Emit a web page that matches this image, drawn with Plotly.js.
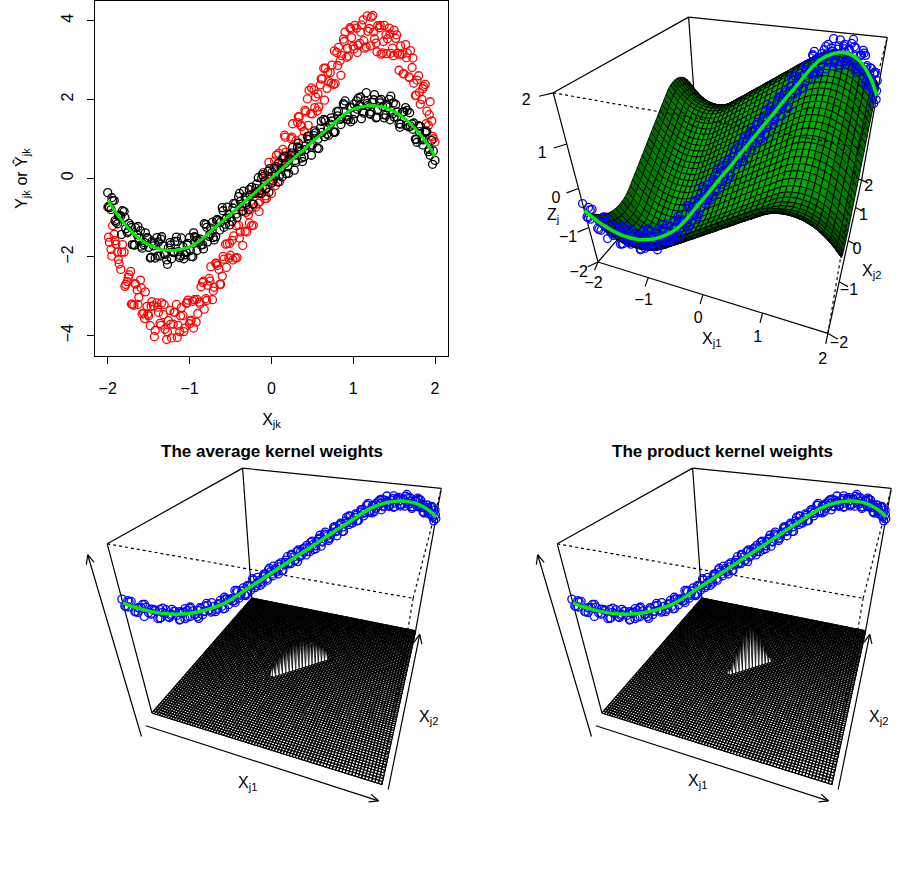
<!DOCTYPE html>
<html><head><meta charset="utf-8">
<script src="https://cdn.plot.ly/plotly-3.0.1.min.js"></script>
<style>html,body{margin:0;padding:0;background:#fff}#chart{width:900px;height:873px}</style>
</head><body><div id="chart"></div>
<script>
const xA = [-2,-1.96,-1.92,-1.88,-1.84,-1.8,-1.76,-1.72,-1.68,-1.64,
-1.6,-1.56,-1.52,-1.48,-1.44,-1.4,-1.36,-1.32,-1.28,-1.24,
-1.2,-1.16,-1.12,-1.08,-1.04,-1,-0.96,-0.92,-0.88,-0.84,
-0.8,-0.76,-0.72,-0.68,-0.64,-0.6,-0.56,-0.52,-0.48,-0.44,
-0.4,-0.36,-0.32,-0.28,-0.24,-0.2,-0.16,-0.12,-0.08,-0.04,
0,0.04,0.08,0.12,0.16,0.2,0.24,0.28,0.32,0.36,
0.4,0.44,0.48,0.52,0.56,0.6,0.64,0.68,0.72,0.76,
0.8,0.84,0.88,0.92,0.96,1,1.04,1.08,1.12,1.16,
1.2,1.24,1.28,1.32,1.36,1.4,1.44,1.48,1.52,1.56,
1.6,1.64,1.68,1.72,1.76,1.8,1.84,1.88,1.92,1.96,2];
const xB = [-1.98,-1.94,-1.9,-1.86,-1.82,-1.78,-1.74,-1.7,-1.66,-1.62,
-1.58,-1.54,-1.5,-1.46,-1.42,-1.38,-1.34,-1.3,-1.26,-1.22,
-1.18,-1.14,-1.1,-1.06,-1.02,-0.98,-0.94,-0.9,-0.86,-0.82,
-0.78,-0.74,-0.7,-0.66,-0.62,-0.58,-0.54,-0.5,-0.46,-0.42,
-0.38,-0.34,-0.3,-0.26,-0.22,-0.18,-0.14,-0.1,-0.06,-0.02,
0.02,0.06,0.1,0.14,0.18,0.22,0.26,0.3,0.34,0.38,
0.42,0.46,0.5,0.54,0.58,0.62,0.66,0.7,0.74,0.78,
0.82,0.86,0.9,0.94,0.98,1.02,1.06,1.1,1.14,1.18,
1.22,1.26,1.3,1.34,1.38,1.42,1.46,1.5,1.54,1.58,
1.62,1.66,1.7,1.74,1.78,1.82,1.86,1.9,1.94,1.98];
const xC = [-1.99,-1.95,-1.91,-1.87,-1.83,-1.79,-1.75,-1.71,-1.67,-1.63,
-1.59,-1.55,-1.51,-1.47,-1.43,-1.39,-1.35,-1.31,-1.27,-1.23,
-1.19,-1.15,-1.11,-1.07,-1.03,-0.99,-0.95,-0.91,-0.87,-0.83,
-0.79,-0.75,-0.71,-0.67,-0.63,-0.59,-0.55,-0.51,-0.47,-0.43,
-0.39,-0.35,-0.31,-0.27,-0.23,-0.19,-0.15,-0.11,-0.07,-0.03,
0.01,0.05,0.09,0.13,0.17,0.21,0.25,0.29,0.33,0.37,
0.41,0.45,0.49,0.53,0.57,0.61,0.65,0.69,0.73,0.77,
0.81,0.85,0.89,0.93,0.97,1.01,1.05,1.09,1.13,1.17,
1.21,1.25,1.29,1.33,1.37,1.41,1.45,1.49,1.53,1.57,
1.61,1.65,1.69,1.73,1.77,1.81,1.85,1.89,1.93,1.97];
const blackYA = [-0.37,-0.80,-0.57,-1.16,-0.96,-0.85,-1.39,-1.21,-1.70,-1.44,
-1.34,-1.69,-1.51,-2.03,-1.72,-1.51,-1.98,-1.72,-2.08,-1.64,
-1.89,-1.50,-2.02,-1.74,-1.89,-1.51,-2.00,-1.51,-1.60,-1.69,
-1.18,-1.48,-1.12,-1.49,-1.08,-0.75,-1.17,-0.92,-1.10,-0.65,
-0.47,-0.72,-0.48,-0.80,-0.23,-0.39,0.01,-0.39,-0.07,0.17,
-0.13,0.25,-0.10,0.25,0.56,0.28,0.58,0.20,0.79,0.67,
0.54,1.06,0.81,1.08,0.76,1.27,1.49,1.12,1.37,1.17,
1.69,1.49,1.89,1.49,1.80,1.49,1.96,1.85,1.69,2.17,
1.64,1.92,1.53,1.97,1.82,1.60,2.00,1.63,1.87,1.38,
1.67,1.79,1.30,1.37,0.99,1.33,0.99,1.16,0.67,0.96,0.45];
const blackYB = [-0.75,-0.57,-1.12,-0.96,-0.83,-1.29,-1.15,-1.69,-1.26,-1.52,
-1.78,-1.39,-1.76,-1.61,-2.03,-1.62,-1.49,-1.94,-1.78,-2.05,
-1.61,-1.87,-1.52,-1.95,-1.66,-1.99,-1.49,-1.58,-1.70,-1.16,
-1.62,-1.27,-1.57,-1.05,-1.12,-1.25,-0.74,-1.00,-0.64,-1.00,
-0.59,-0.33,-0.67,-0.44,-0.66,-0.15,-0.31,0.04,-0.26,0.24,
-0.06,0.29,0.06,0.51,0.11,0.49,0.78,0.40,0.75,0.42,
0.82,1.07,0.84,1.15,0.75,1.16,1.47,1.09,1.45,1.17,
1.70,1.52,1.96,1.48,1.79,1.64,2.03,1.51,1.97,1.84,
1.68,2.12,1.73,2.00,1.53,1.85,2.08,1.55,1.68,1.37,
1.69,1.72,1.32,1.40,0.91,1.31,0.97,1.18,0.58,0.69];
const blackYC = [-0.72,-0.50,-1.08,-0.94,-1.43,-1.00,-1.35,-1.26,-1.70,-1.23,
-1.73,-1.64,-1.53,-2.01,-1.66,-1.98,-1.55,-1.92,-2.19,-1.70,
-1.88,-1.61,-1.97,-2.05,-1.70,-1.84,-1.39,-1.84,-1.55,-1.80,
-1.25,-1.42,-1.51,-1.07,-1.32,-0.83,-1.03,-1.19,-0.76,-0.91,
-0.39,-0.83,-0.56,-0.29,-0.66,-0.26,-0.38,0.09,-0.28,-0.36,
0.15,0.05,0.39,0.03,0.37,0.12,0.64,0.45,0.89,0.51,
0.72,0.98,0.58,1.20,0.99,1.44,1.05,1.25,1.53,1.16,
1.58,1.36,1.86,1.57,1.43,1.88,1.75,2.06,1.65,1.89,
1.62,1.99,1.55,1.91,1.61,1.88,1.48,1.91,1.56,1.29,
1.68,1.34,1.66,1.24,0.98,1.18,0.84,1.20,0.73,0.35];
const redYA = [-0.74,-1.81,-1.43,-1.88,-2.32,-1.88,-2.63,-2.37,-3.23,-2.84,
-2.59,-3.43,-3.26,-3.75,-3.24,-3.17,-3.69,-3.47,-4.10,-3.36,
-3.71,-3.21,-3.90,-3.49,-3.18,-3.70,-3.13,-3.66,-3.15,-2.65,
-3.06,-2.55,-3.09,-2.16,-2.32,-2.49,-1.68,-2.03,-1.58,-2.03,
-1.20,-0.84,-1.35,-0.93,-1.20,-0.39,-0.64,0.00,-0.52,0.01,
-0.39,0.43,0.36,0.24,1.09,0.44,1.00,0.57,1.41,1.35,
1.19,2.01,1.64,2.24,1.71,2.37,2.79,2.28,2.68,2.38,
3.19,2.98,3.53,3.07,3.82,3.35,3.81,3.42,4.02,3.33,
3.80,4.13,3.43,3.82,3.18,3.64,3.81,3.30,3.55,2.74,
3.15,3.39,2.57,2.81,2.10,2.60,2.00,2.38,1.34,1.45,0.92];
const redYB = [-1.63,-1.21,-1.68,-2.18,-1.69,-2.70,-2.46,-3.21,-2.69,-3.03,
-3.45,-2.89,-3.50,-3.14,-3.87,-3.41,-3.17,-3.84,-3.62,-4.06,
-3.41,-3.74,-3.29,-3.81,-3.10,-3.61,-3.09,-3.44,-2.76,-3.33,
-2.72,-2.25,-2.77,-2.22,-2.70,-2.06,-1.67,-1.96,-1.47,-2.02,
-1.37,-0.85,-1.37,-0.81,-1.20,-0.36,-0.60,0.14,-0.52,0.01,
-0.10,0.58,-0.09,0.73,0.66,0.58,1.38,0.95,1.55,1.01,
1.68,2.23,1.63,2.06,1.81,2.52,2.79,2.45,2.87,2.40,
3.32,3.11,3.71,3.10,3.57,3.88,3.38,3.89,3.30,3.73,
4.09,3.54,3.87,3.15,3.88,3.54,3.17,3.76,3.17,3.36,
2.65,3.18,3.24,2.41,2.49,1.88,2.33,1.70,1.94,1.00];
const redYC = [-1.50,-1.98,-1.59,-2.07,-1.88,-2.75,-2.52,-3.20,-2.68,-3.21,
-2.79,-3.57,-3.46,-3.26,-4.03,-3.28,-3.74,-3.21,-3.91,-3.71,
-3.41,-4.05,-3.50,-3.90,-3.17,-3.63,-3.81,-3.08,-3.20,-2.62,
-3.11,-2.62,-2.87,-2.17,-2.70,-1.99,-2.27,-1.66,-2.08,-1.21,
-1.52,-1.71,-0.87,-1.14,-0.40,-0.74,-0.85,-0.24,-0.45,0.40,
0.05,-0.19,0.63,0.37,1.04,0.52,1.04,0.60,1.56,1.31,
1.72,1.34,2.29,1.79,2.14,2.52,1.98,2.69,2.41,3.23,
2.86,2.61,3.47,3.30,3.79,3.28,3.19,3.71,3.49,4.12,
3.36,3.71,3.21,3.88,3.47,3.16,3.66,3.11,3.64,3.13,
2.65,3.06,2.55,3.05,2.10,2.18,2.27,1.38,1.61,1.06];
const curveX = [-2,-1.9,-1.8,-1.7,-1.6,-1.5,-1.4,-1.3,-1.2,-1.1,-1,-0.9,-0.8,-0.7,-0.6,-0.5,-0.4,-0.3,-0.2,-0.1,
0,0.1,0.2,0.3,0.4,0.5,0.6,0.7,0.8,0.9,1,1.1,1.2,1.3,1.4,1.5,1.6,1.7,1.8,1.9,2];
const curveY = [-0.55,-0.88,-1.15,-1.38,-1.56,-1.69,-1.78,-1.83,-1.84,-1.81,-1.75,-1.63,-1.46,-1.27,-1.10,-0.92,-0.73,-0.55,-0.37,-0.18,
0,0.18,0.37,0.55,0.73,0.92,1.10,1.27,1.46,1.63,1.75,1.81,1.84,1.83,1.78,1.69,1.56,1.38,1.15,0.88,0.55];
const gridW = [-2,-1.95,-1.9,-1.85,-1.8,-1.75,-1.7,-1.65,-1.6,-1.55,
-1.5,-1.45,-1.4,-1.35,-1.3,-1.25,-1.2,-1.15,-1.1,-1.05,
-1,-0.95,-0.9,-0.85,-0.8,-0.75,-0.7,-0.65,-0.6,-0.55,
-0.5,-0.45,-0.4,-0.35,-0.3,-0.25,-0.2,-0.15,-0.1,-0.05,
0,0.05,0.1,0.15,0.2,0.25,0.3,0.35,0.4,0.45,
0.5,0.55,0.6,0.65,0.7,0.75,0.8,0.85,0.9,0.95,
1,1.05,1.1,1.15,1.2,1.25,1.3,1.35,1.4,1.45,
1.5,1.55,1.6,1.65,1.7,1.75,1.8,1.85,1.9,1.95,2];
const avgW = [0,0,0,0,0,0,0,0,0,0, 0,0,0,0,0,0,0,0,0,0, 0,0,0,0,0,0,0,0,0,0, 0,0,
0.75,1.10,1.35,1.55,1.72,1.84,1.93,1.98,2.00,1.98,1.93,1.84,1.72,1.55,1.35,1.10,0.75,
0,0,0,0,0,0,0,0,0,0, 0,0,0,0,0,0,0,0,0,0, 0,0,0,0,0,0,0,0,0,0, 0,0];
const prodW = [0,0,0,0,0,0,0,0,0,0, 0,0,0,0,0,0,0,0,0,0, 0,0,0,0,0,0,0,0,0,0, 0,0,0,0,
0.35,0.90,1.50,2.05,2.50,2.85,3.00,2.85,2.50,2.05,1.50,0.90,0.35,
0,0,0,0,0,0,0,0,0,0, 0,0,0,0,0,0,0,0,0,0, 0,0,0,0,0,0,0,0,0,0, 0,0,0,0];
const xTicks = [-2,-1,0,1,2];
const yTicks = [-4,-2,0,2,4];
const zTicksTop = [-2,-1,0,1,2];
const xyRange = [-2,2];
const zRangeTop = [-2,2];
const zRangeBottom = [-7,2.1];

const FONT = '"Liberation Sans", Arial, Helvetica, sans-serif';
const W = 900, H = 873;
const VIEW = {theta:20, phi:32, expand:0.8, r:Math.sqrt(3), d:1};
const PXU = 421;   // pixels per projected unit
const LIGHT = (() => { const v = [-0.4, -1, 1]; const n = Math.hypot(...v); return v.map(a => a/n); })();

const ptsX = xA.concat(xB, xC), blackY = blackYA.concat(blackYB, blackYC), redY = redYA.concat(redYB, redYC);
const xyC = (xyRange[0]+xyRange[1])/2, xyS = (xyRange[1]-xyRange[0])/2;

function makeProjector(zr){
  const th = VIEW.theta*Math.PI/180, ph = VIEW.phi*Math.PI/180;
  const st = Math.sin(th), ct = Math.cos(th), sp = Math.sin(ph), cp = Math.cos(ph);
  const zc = (zr[0]+zr[1])/2, zs = (zr[1]-zr[0])/2;
  return (x, y, z) => {
    const X = (x-xyC)/xyS, Y = (y-xyC)/xyS, Z = (z-zc)/zs*VIEW.expand;
    const x0 = X*ct + Y*st, dep = X*st - Y*ct;
    const y0 = Z*cp - dep*sp, z3 = Z*sp + dep*cp;
    const w = 1 + (VIEW.r + VIEW.d - z3)/VIEW.d;
    return [x0/w, y0/w];
  };
}

function axesFor(proj, zr, anchor, dom, id){
  const [fx, fy] = proj(xyRange[0], xyRange[0], zr[0]);
  const base = {visible:false, fixedrange:true, showgrid:false, zeroline:false};
  return [Object.assign({domain:[dom[0]/W, dom[1]/W], anchor:'y'+id,
            range:[fx - (anchor[0]-dom[0])/PXU, fx + (dom[1]-anchor[0])/PXU]}, base),
          Object.assign({domain:[1-dom[3]/H, 1-dom[2]/H], anchor:'x'+id,
            range:[fy - (dom[3]-anchor[1])/PXU, fy + (anchor[1]-dom[2])/PXU]}, base)];
}

const pushPt = (o, p) => { o.x.push(p[0]); o.y.push(p[1]); };
const brk = o => { o.x.push(null); o.y.push(null); };

// facets painted back to front (rows of constant x2); consecutive facets with equal style share a trace
function surfaceRuns(proj, zr, gx, gy, Z, styleFn, xa, ya){
  const zc = (zr[0]+zr[1])/2, zs = (zr[1]-zr[0])/2;
  const N = (i, j) => [(gx[i]-xyC)/xyS, (gy[j]-xyC)/xyS, (Z[j][i]-zc)/zs*VIEW.expand];
  const out = [];
  for (let j = gy.length-2; j >= 0; j--){
    let cur = null;
    const flush = () => { if (cur) out.push({type:'scatter', mode:'lines', x:cur.x, y:cur.y, xaxis:xa, yaxis:ya,
      fill:'toself', fillcolor:cur.fill, line:{color:'#000', width:cur.lw}, hoverinfo:'skip', showlegend:false}); };
    for (let i = 0; i < gx.length-1; i++){
      const a = N(i,j), b = N(i+1,j), c = N(i+1,j+1), d = N(i,j+1);
      const v1 = [c[0]-a[0], c[1]-a[1], c[2]-a[2]], v2 = [d[0]-b[0], d[1]-b[1], d[2]-b[2]];
      const n = [v1[1]*v2[2]-v1[2]*v2[1], v1[2]*v2[0]-v1[0]*v2[2], v1[0]*v2[1]-v1[1]*v2[0]];
      const raised = [Z[j][i], Z[j][i+1], Z[j+1][i+1], Z[j+1][i]].some(v => v > zr[0]);
      const st = styleFn(n, raised);
      if (!cur || cur.key !== st.key){ flush(); cur = {key:st.key, fill:st.fill, lw:st.lw, x:[], y:[]}; }
      [[i,j],[i+1,j],[i+1,j+1],[i,j+1],[i,j]].forEach(([p,q]) => pushPt(cur, proj(gx[p], gy[q], Z[q][p])));
      brk(cur);
    }
    flush();
  }
  return out;
}

const greenStyle = n => {
  const len = Math.hypot(...n);
  const dd = (n[0]*LIGHT[0] + n[1]*LIGHT[1] + n[2]*LIGHT[2]) / len;
  const lvl = Math.round(((1+dd)/2) * 10) / 10;
  const g = Math.round(20 + 155*Math.pow(lvl, 1.6));
  return {key:'g'+lvl, fill:`rgb(0,${g},0)`, lw:0.9};
};
const weightStyle = (n, raised) => raised ? {key:'w', fill:'#ffffff', lw:0.6} : {key:'f', fill:'#ffffff', lw:1.15};

function boxLines(proj, zr, xa, ya){
  const X = xyRange, Y = xyRange, Z = zr;
  const solid = {x:[],y:[]}, dotted = {x:[],y:[]};
  const front = (i,j,k) => i===1 && j===0 && k===1;
  for (let i=0;i<2;i++) for (let j=0;j<2;j++) for (let k=0;k<2;k++){
    [[1-i,j,k],[i,1-j,k],[i,j,1-k]].forEach(([a,b,c]) => {
      if (a*4+b*2+c <= i*4+j*2+k) return;
      const t = (front(i,j,k) || front(a,b,c)) ? dotted : solid;
      pushPt(t, proj(X[i],Y[j],Z[k])); pushPt(t, proj(X[a],Y[b],Z[c])); brk(t);
    });
  }
  return {
    back:{type:'scatter', mode:'lines', x:solid.x, y:solid.y, xaxis:xa, yaxis:ya, line:{color:'#000', width:1.2}, hoverinfo:'skip', showlegend:false},
    front:{type:'scatter', mode:'lines', x:dotted.x, y:dotted.y, xaxis:xa, yaxis:ya, line:{color:'#000', width:1.2, dash:'dot'}, hoverinfo:'skip', showlegend:false}
  };
}

function dataTraces(proj, xa, ya){
  const p = ptsX.map((x, k) => proj(x, x, blackY[k]));
  const c = curveX.map((x, k) => proj(x, x, curveY[k]));
  return [
    {type:'scatter', mode:'markers', x:p.map(q=>q[0]), y:p.map(q=>q[1]), xaxis:xa, yaxis:ya,
     marker:{symbol:'circle-open', size:8, color:'#0000ff', line:{color:'#0000ff', width:1.3}}, hoverinfo:'skip', showlegend:false},
    {type:'scatter', mode:'lines', x:c.map(q=>q[0]), y:c.map(q=>q[1]), xaxis:xa, yaxis:ya,
     line:{color:'#00ee00', width:3.5, shape:'spline'}, hoverinfo:'skip', showlegend:false}
  ];
}

function arrowTraces(proj, zr, xa, ya){
  const lo = xyRange[0], hi = xyRange[1], zb = zr[0], zt = zr[1];
  const o = {x:[], y:[]};
  const head = 10/PXU, ang = 24*Math.PI/180;
  const arrow = (p0, p1) => {
    pushPt(o, p0); pushPt(o, p1); brk(o);
    const dx = p1[0]-p0[0], dy = p1[1]-p0[1], L = Math.hypot(dx, dy);
    const ux = dx/L, uy = dy/L;
    [ang, -ang].forEach(a => {
      const rx = ux*Math.cos(a) - uy*Math.sin(a), ry = ux*Math.sin(a) + uy*Math.cos(a);
      pushPt(o, p1); pushPt(o, [p1[0]-head*rx, p1[1]-head*ry]); brk(o);
    });
  };
  arrow(proj(lo, lo-0.2, zb-0.3), proj(hi, lo-0.2, zb-0.3));
  arrow(proj(hi+0.1, lo, zb-0.2), proj(hi+0.1, hi, zb-0.2));
  arrow(proj(lo, lo-0.35, zb-0.6), proj(lo, lo-0.35, zt));
  return {type:'scatter', mode:'lines', x:o.x, y:o.y, xaxis:xa, yaxis:ya, line:{color:'#000', width:1.2}, hoverinfo:'skip', showlegend:false};
}

function tickTraces(proj, zr, xa, ya){
  const lo = xyRange[0], hi = xyRange[1], zb = zr[0];
  const t = {x:[], y:[]}, lab = {x:[], y:[], text:[]};
  const addLab = (p, v) => { lab.x.push(p[0]); lab.y.push(p[1]); lab.text.push(String(v).replace('-', '\u2212')); };
  xTicks.forEach(v => { pushPt(t, proj(v, lo, zb)); pushPt(t, proj(v, lo-0.12, zb-0.1)); brk(t); addLab(proj(v, lo-0.22, zb-0.4), v); });
  xTicks.forEach(v => { pushPt(t, proj(hi, v, zb)); pushPt(t, proj(hi+0.15, v, zb-0.07)); brk(t); addLab(proj(hi+0.18, v, zb-0.2), v); });
  zTicksTop.forEach(v => { pushPt(t, proj(lo, lo, v)); pushPt(t, proj(lo-0.1, lo-0.15, v)); brk(t); addLab(proj(lo-0.15, lo-0.32, v), v); });
  return [
    {type:'scatter', mode:'lines', x:t.x, y:t.y, xaxis:xa, yaxis:ya, line:{color:'#000', width:1.2}, hoverinfo:'skip', showlegend:false},
    {type:'scatter', mode:'text', x:lab.x, y:lab.y, text:lab.text, xaxis:xa, yaxis:ya, textposition:'middle center',
     textfont:{family:FONT, size:16, color:'#000'}, hoverinfo:'skip', showlegend:false}
  ];
}

// ---- top-left scatter ----
const traces = [
  {type:'scatter', mode:'markers', x:ptsX, y:redY, xaxis:'x', yaxis:'y',
   marker:{symbol:'circle-open', size:8, color:'#ff0000', line:{width:1.3, color:'#ff0000'}}, hoverinfo:'skip', showlegend:false},
  {type:'scatter', mode:'markers', x:ptsX, y:blackY, xaxis:'x', yaxis:'y',
   marker:{symbol:'circle-open', size:8, color:'#000', line:{width:1.3, color:'#000'}}, hoverinfo:'skip', showlegend:false},
  {type:'scatter', mode:'lines', x:curveX, y:curveY, xaxis:'x', yaxis:'y',
   line:{color:'#00ee00', width:3, shape:'spline'}, hoverinfo:'skip', showlegend:false}
];

// ---- top-right: regression surface ----
const projTop = makeProjector(zRangeTop);
const surfZ = curveY.map(a => curveY.map(b => (a + b) / 2));
const boxTop = boxLines(projTop, zRangeTop, 'x2', 'y2');
traces.push(boxTop.back);
traces.push(...surfaceRuns(projTop, zRangeTop, curveX, curveX, surfZ, greenStyle, 'x2', 'y2'));
traces.push(boxTop.front);
traces.push(...tickTraces(projTop, zRangeTop, 'x2', 'y2'));
traces.push(...dataTraces(projTop, 'x2', 'y2'));

// ---- bottom: kernel weights ----
const projBot = makeProjector(zRangeBottom);
const weightZ = w => gridW.map((_, j) => gridW.map((_, i) => zRangeBottom[0] + (i === j ? w[i] : 0)));
[[avgW, 'x3', 'y3'], [prodW, 'x4', 'y4']].forEach(([w, xa, ya]) => {
  const b = boxLines(projBot, zRangeBottom, xa, ya);
  traces.push(b.back);
  traces.push(...surfaceRuns(projBot, zRangeBottom, gridW, gridW, weightZ(w), weightStyle, xa, ya));
  traces.push(b.front);
  traces.push(arrowTraces(projBot, zRangeBottom, xa, ya));
  traces.push(...dataTraces(projBot, xa, ya));
});

const [ax2, ay2] = axesFor(projTop, zRangeTop, [598, 262], [480, 900, 0, 420], '2');
const [ax3, ay3] = axesFor(projBot, zRangeBottom, [152, 713], [40, 460, 462, 873], '3');
const [ax4, ay4] = axesFor(projBot, zRangeBottom, [602, 713], [490, 900, 462, 873], '4');

const ann = (text, px, py, size) => ({text, x:px/W, y:1-py/H, xref:'paper', yref:'paper',
  showarrow:false, xanchor:'center', yanchor:'middle', font:{family:FONT, size, color:'#000'}});

const layout = {
  width:W, height:H, margin:{l:0, r:0, t:0, b:0}, paper_bgcolor:'#fff', plot_bgcolor:'rgba(0,0,0,0)',
  showlegend:false, hovermode:false, font:{family:FONT, color:'#000'},
  xaxis:{domain:[0.1056,0.4978], anchor:'y', range:[-2.155,2.159], tickvals:xTicks,
    showline:true, mirror:true, linecolor:'#000', linewidth:1, ticks:'outside', ticklen:7, tickcolor:'#000',
    showgrid:false, zeroline:false, tickfont:{size:16}, ticklabelstandoff:11, fixedrange:true,
    title:{text:'X<sub>jk</sub>', font:{size:16}, standoff:17}},
  yaxis:{domain:[0.5922,0.9989], anchor:'x', range:[-4.52,4.5], tickvals:yTicks, tickangle:-90,
    showline:true, mirror:true, linecolor:'#000', linewidth:1, ticks:'outside', ticklen:7, tickcolor:'#000',
    showgrid:false, zeroline:false, tickfont:{size:16}, ticklabelstandoff:8, fixedrange:true,
    title:{text:'Y<sub>jk</sub> or Ŷ<sub>jk</sub>', font:{size:16}, standoff:27}},
  xaxis2:ax2, yaxis2:ay2, xaxis3:ax3, yaxis3:ay3, xaxis4:ax4, yaxis4:ay4,
  annotations:[
    ann('<b>The average kernel weights</b>', 272, 451, 17),
    ann('<b>The product kernel weights</b>', 722, 451, 17),
    ann('Z<sub>j</sub>', 553, 215, 16),
    ann('X<sub>j1</sub>', 711, 340, 16),
    ann('X<sub>j2</sub>', 871, 271, 16),
    ann('X<sub>j1</sub>', 247, 783, 16),
    ann('X<sub>j1</sub>', 697, 781, 16),
    ann('X<sub>j2</sub>', 428, 717, 16),
    ann('X<sub>j2</sub>', 878, 717, 16)
  ]
};

Plotly.newPlot('chart', traces, layout, {staticPlot:true, displayModeBar:false});
</script></body></html>
